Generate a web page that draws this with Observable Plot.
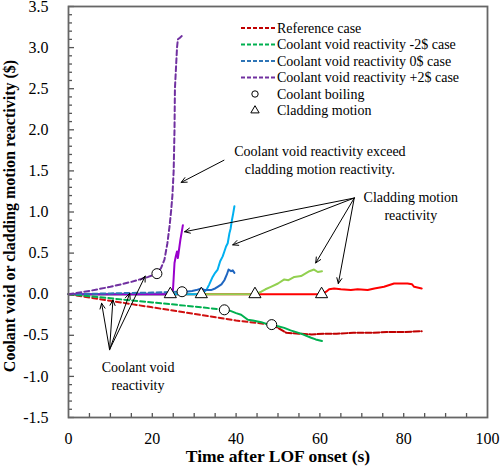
<!DOCTYPE html>
<html><head><meta charset="utf-8">
<script src="https://cdn.jsdelivr.net/npm/d3@7"></script>
<script src="https://cdn.jsdelivr.net/npm/@observablehq/plot@0.6"></script>
<style>body{margin:0;background:#fff} #chart{width:500px;height:472px} #chart svg text{font-family:"Liberation Serif","Times New Roman",serif}</style>
</head><body><div id="chart"></div>
<script>
// ---- Data ----
// Reference case
const refVoidPreX  = [0, 10, 20, 30, 40, 48.5];
const refVoidPreY  = [0, -0.08, -0.16, -0.24, -0.32, -0.37];
const refVoidPostX = [48.5, 50, 52, 55, 58, 61, 64, 68, 72, 76, 80, 84.3];
const refVoidPostY = [-0.37, -0.41, -0.47, -0.48, -0.49, -0.48, -0.48, -0.47, -0.47, -0.46, -0.46, -0.45];
const refCladX = [0, 60.4, 61.5, 62.2, 63.4, 65, 67.4, 69, 71.4, 73, 75.3, 77.7, 79, 80.9, 82, 82.5, 84.3];
const refCladY = [0, 0, 0.03, 0.06, 0.07, 0.06, 0.05, 0.06, 0.05, 0.07, 0.09, 0.13, 0.13, 0.13, 0.12, 0.09, 0.07];
// Coolant void reactivity -2$ case
const m2VoidPreX  = [0, 10, 20, 30, 37.2];
const m2VoidPreY  = [0, -0.05, -0.10, -0.15, -0.19];
const m2VoidPostX = [37.2, 38.5, 40, 41.2, 42.8, 44, 46, 48.3, 50, 51.5, 53, 55.5, 57.9, 59, 60.5];
const m2VoidPostY = [-0.19, -0.20, -0.23, -0.25, -0.31, -0.32, -0.34, -0.38, -0.39, -0.41, -0.44, -0.48, -0.53, -0.55, -0.57];
const m2CladX = [0, 44.5, 46, 47, 48.3, 50, 51.5, 52.5, 53.9, 55.5, 56.5, 57.5, 58.6, 59.5, 60.5];
const m2CladY = [0, 0, 0.03, 0.06, 0.09, 0.13, 0.18, 0.17, 0.21, 0.22, 0.25, 0.28, 0.30, 0.27, 0.28];
// Coolant void reactivity 0$ case
const z0VoidPreX  = [0, 10, 20, 27.1];
const z0VoidPreY  = [0, 0.01, 0.02, 0.03];
const z0VoidPostX = [27.1, 28, 29.5, 30.5, 31.7, 32.5, 34, 35, 35.6, 36.5, 37.2, 37.8, 38.2, 38.8, 39.2, 39.6];
const z0VoidPostY = [0.03, 0.03, 0.04, 0.05, 0.07, 0.05, 0.05, 0.07, 0.09, 0.12, 0.17, 0.24, 0.30, 0.28, 0.29, 0.26];
const z0CladX = [0, 31.7, 32.9, 33.6, 34.4, 35, 35.6, 36.2, 36.8, 37.2, 37.6, 38, 38.4, 38.7, 39.0, 39.3, 39.6];
const z0CladY = [0, 0, 0.05, 0.12, 0.21, 0.26, 0.30, 0.40, 0.46, 0.52, 0.58, 0.62, 0.74, 0.80, 0.90, 0.98, 1.07];
// Coolant void reactivity +2$ case
const p2VoidX = [0, 5, 10, 15, 19, 21.1, 22.1, 22.9, 23.6, 24.1, 24.5, 24.8, 25.1, 25.3, 25.4, 25.7, 25.9, 26.1, 26.6, 27.0, 27.3];
const p2VoidY = [0, 0.04, 0.09, 0.15, 0.21, 0.25, 0.32, 0.42, 0.62, 0.82, 1.02, 1.2, 1.5, 2.0, 2.5, 2.8, 3.0, 3.10, 3.12, 3.14, 3.15];
const p2CladX = [0, 24.3, 24.9, 25.1, 25.3, 25.6, 25.9, 26.1, 26.4, 26.7, 27.0, 27.3];
const p2CladY = [0, 0, 0.02, 0.2, 0.38, 0.46, 0.52, 0.44, 0.55, 0.66, 0.75, 0.84];
// Markers
const boilX = [21.1, 27.1, 37.2, 48.5];
const boilY = [0.25, 0.03, -0.19, -0.37];
const cladStartX = [24.3, 31.7, 44.5, 60.4];
const cladStartY = [0, 0, 0, 0];
// Axis ticks and labels
const xTickLabels = [0, 20, 40, 60, 80, 100];
const xMinorTicks = [5,10,15,20,25,30,35,40,45,50,55,60,65,70,75,80,85,90,95];
const yTickLabels = [-1.5, -1.0, -0.5, 0.0, 0.5, 1.0, 1.5, 2.0, 2.5, 3.0, 3.5];
const yMinorTicks = d3.range(-14, 35).map(i => i / 10).filter(v => Math.abs(Math.round(v * 2) - v * 2) > 1e-6);
const xTitle = "Time after LOF onset (s)";
const yTitle = "Coolant void or cladding motion reactivity ($)";
// Annotations (data coordinates)
const noteText = ["Coolant void reactivity exceed\ncladding motion reactivity.", "Cladding motion\nreactivity", "Coolant void\nreactivity"];
const noteX = [60, 81.7, 16.6];
const noteY = [1.64, 1.085, -0.99];
const arrowX1 = [37.1, 68.2, 68.2, 68.2, 68.2, 9.8, 9.8, 9.8, 9.8];
const arrowY1 = [1.63, 1.17, 1.17, 1.17, 1.17, -0.675, -0.675, -0.675, -0.675];
const arrowX2 = [26.9, 27.7, 39.2, 59.0, 64.4, 7.9, 10.6, 14.6, 18.3];
const arrowY2 = [1.36, 0.76, 0.60, 0.38, 0.13, -0.11, -0.07, 0.01, 0.22];
// Legend
const legendLabels = ["Reference case", "Coolant void reactivity -2$ case", "Coolant void reactivity 0$ case", "Coolant void reactivity +2$ case", "Coolant boiling", "Cladding motion"];
const legendColors = ["#c00000", "#00b050", "#2e75b6", "#7030a0"];

// ---- Build ----
const FONT = "'Liberation Serif', 'Times New Roman', serif";
const rows = (xs, ys) => xs.map((x, i) => ({x, y: ys[i]}));
const dash = "5,3";
const W = 500, H = 472, mL = 68, mR = 13, mT = 6, mB = 55;
const innerW = W - mL - mR, innerH = H - mT - mB;

const plot = Plot.plot({
  width: W, height: H,
  marginLeft: mL, marginRight: mR, marginTop: mT, marginBottom: mB,
  style: {fontSize: "16px", color: "#000", background: "#fff"},
  x: {domain: [0, 100]},
  y: {domain: [-1.5, 3.5]},
  marks: [
    Plot.ruleX(xMinorTicks, {insetTop: innerH - 4, stroke: "#555", strokeWidth: 1.3}),
    Plot.ruleY(yMinorTicks, {insetRight: innerW - 4, stroke: "#555", strokeWidth: 1.3}),
    Plot.ruleY(yTickLabels, {insetRight: innerW - 6, stroke: "#555", strokeWidth: 1.3}),
    Plot.axisX({ticks: xTickLabels, tickSize: 0, tickPadding: 15, tickFormat: d => String(d), label: null, fontSize: 16}),
    Plot.axisY({ticks: yTickLabels, tickSize: 0, tickPadding: 20, tickFormat: d => d.toFixed(1), label: null, fontSize: 16}),
    // cladding motion reactivity (solid)
    Plot.line(rows(refCladX, refCladY), {x: "x", y: "y", stroke: "#ff0000", strokeWidth: 2}),
    Plot.line(rows(m2CladX, m2CladY), {x: "x", y: "y", stroke: "#92d050", strokeWidth: 2}),
    Plot.line(rows(z0CladX, z0CladY), {x: "x", y: "y", stroke: "#00b0f0", strokeWidth: 2}),
    Plot.line(rows(p2CladX, p2CladY), {x: "x", y: "y", stroke: "#9900cc", strokeWidth: 2}),
    // coolant void reactivity
    Plot.line(rows(refVoidPreX, refVoidPreY), {x: "x", y: "y", stroke: "#d01010", strokeWidth: 2, strokeDasharray: dash}),
    Plot.line(rows(refVoidPostX, refVoidPostY), {x: "x", y: "y", stroke: "#c00000", strokeWidth: 2, strokeDasharray: "6,2"}),
    Plot.line(rows(m2VoidPreX, m2VoidPreY), {x: "x", y: "y", stroke: "#00b050", strokeWidth: 2, strokeDasharray: dash}),
    Plot.line(rows(m2VoidPostX, m2VoidPostY), {x: "x", y: "y", stroke: "#00b050", strokeWidth: 2}),
    Plot.line(rows(z0VoidPreX, z0VoidPreY), {x: "x", y: "y", stroke: "#2e75b6", strokeWidth: 2, strokeDasharray: dash}),
    Plot.line(rows(z0VoidPostX, z0VoidPostY), {x: "x", y: "y", stroke: "#1f66c0", strokeWidth: 2}),
    Plot.line(rows(p2VoidX, p2VoidY), {x: "x", y: "y", stroke: "#7030a0", strokeWidth: 2, strokeDasharray: dash}),
    // markers
    Plot.dot(rows(boilX, boilY), {x: "x", y: "y", r: 5, fill: "white", stroke: "black", strokeWidth: 1}),
    Plot.dot(rows(cladStartX, cladStartY), {x: "x", y: "y", symbol: "triangle", r: 4.5, fill: "white", stroke: "black", strokeWidth: 1}),
    // annotations
    Plot.arrow(arrowX1.map((x, i) => ({x1: x, y1: arrowY1[i], x2: arrowX2[i], y2: arrowY2[i]})),
      {x1: "x1", y1: "y1", x2: "x2", y2: "y2", stroke: "black", strokeWidth: 1, headLength: 9, headAngle: 50}),
    Plot.text(noteText.map((t, i) => ({t, x: noteX[i], y: noteY[i]})),
      {x: "x", y: "y", text: "t", fontSize: 14, lineHeight: 1.3, fill: "black"}),
    Plot.frame({stroke: "#666", strokeWidth: 1.8}),
    Plot.text([xTitle], {frameAnchor: "bottom", dy: 44, fontWeight: "bold", fontSize: 17.5, fill: "black"}),
    Plot.text([yTitle], {frameAnchor: "left", textAnchor: "middle", lineAnchor: "middle", dx: -59, dy: 4, rotate: -90, fontWeight: "bold", fontSize: 16, fill: "black"})
  ]
});
plot.setAttribute("font-family", FONT);
document.getElementById("chart").appendChild(plot);

// ---- Legend (inside the SVG, top right) ----
const svg = d3.select(plot);
const lg = svg.append("g").attr("font-size", 14).attr("text-anchor", "start");
const rowY0 = 28, rowDy = 16.5, lineX1 = 241, lineX2 = 275, textX = 277;
legendLabels.forEach((label, i) => {
  const yy = rowY0 + i * rowDy;
  if (i < 4) {
    lg.append("line").attr("x1", lineX1).attr("x2", lineX2).attr("y1", yy).attr("y2", yy)
      .attr("stroke", legendColors[i]).attr("stroke-width", 2).attr("stroke-dasharray", "4,2");
  } else if (i === 4) {
    lg.append("circle").attr("cx", 255).attr("cy", yy).attr("r", 3.2).attr("fill", "white").attr("stroke", "black");
  } else {
    lg.append("path").attr("d", d3.symbol(d3.symbolTriangle, 30)()).attr("transform", `translate(255,${yy})`)
      .attr("fill", "white").attr("stroke", "black");
  }
  lg.append("text").attr("x", textX).attr("y", yy).attr("dy", "0.35em").attr("text-anchor", "start").attr("fill", "black").text(label);
});
// make every text use the serif face
svg.selectAll("text").attr("font-family", FONT).style("font-family", FONT);
</script>
</body></html>
